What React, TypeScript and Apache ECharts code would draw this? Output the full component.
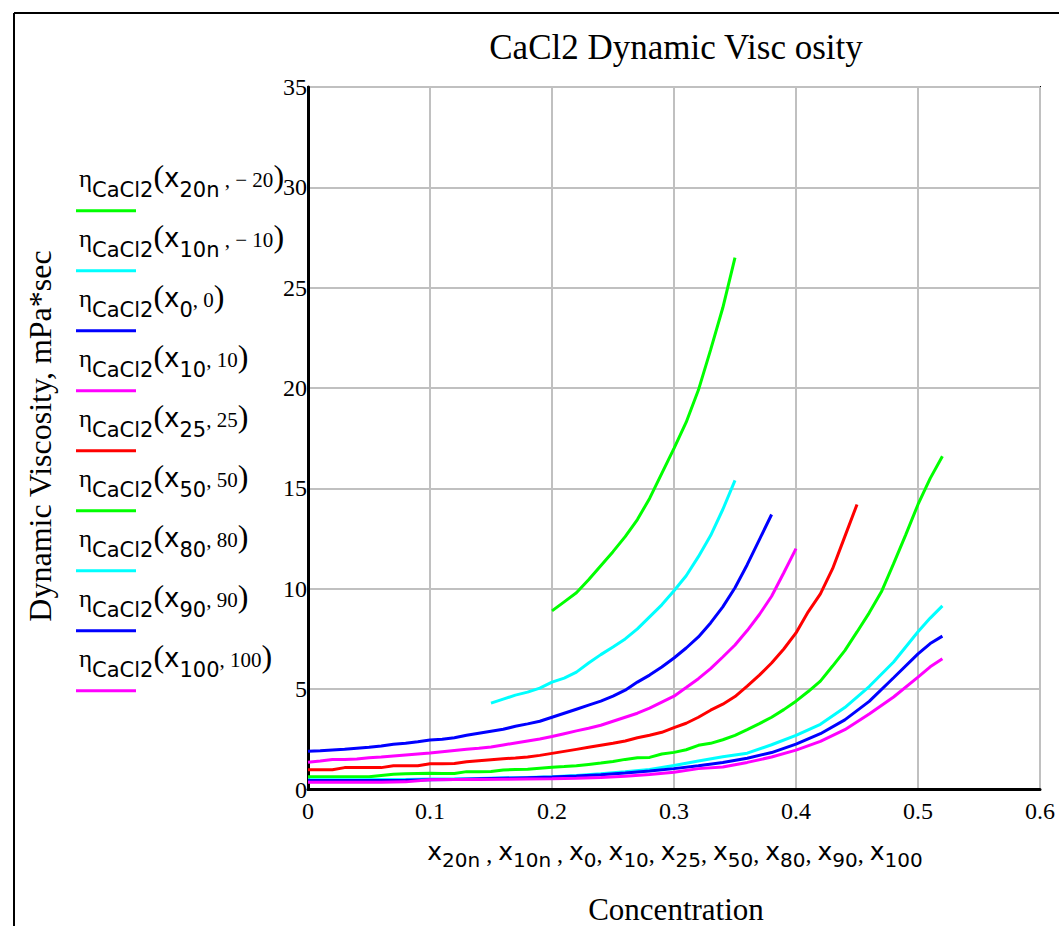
import React, { useEffect, useRef } from "react";
import * as echarts from "echarts";

// Concentration (mass fraction) and dynamic viscosity (mPa*s) for each temperature trace
const concM20 = [0.2, 0.21, 0.22, 0.23, 0.24, 0.25, 0.26, 0.27, 0.28, 0.29, 0.3, 0.31, 0.32, 0.33, 0.34, 0.35];
const etaM20 = [8.9, 9.35, 9.8, 10.45, 11.15, 11.85, 12.6, 13.45, 14.5, 15.75, 17.0, 18.3, 19.9, 21.9, 24.0, 26.5];

const concM10 = [0.15, 0.16, 0.17, 0.18, 0.19, 0.2, 0.21, 0.22, 0.23, 0.24, 0.25, 0.26, 0.27, 0.28, 0.29, 0.3, 0.31, 0.32, 0.33, 0.34, 0.35];
const etaM10 = [4.3, 4.5, 4.7, 4.85, 5.05, 5.35, 5.55, 5.85, 6.3, 6.72, 7.1, 7.5, 8.0, 8.6, 9.2, 9.9, 10.65, 11.6, 12.65, 13.95, 15.4];

const conc0 = [
  0, 0.01, 0.02, 0.03, 0.04, 0.05, 0.06, 0.07, 0.08, 0.09,
  0.1, 0.11, 0.12, 0.13, 0.14, 0.15, 0.16, 0.17, 0.18, 0.19,
  0.2, 0.21, 0.22, 0.23, 0.24, 0.25, 0.26, 0.27, 0.28, 0.29,
  0.3, 0.31, 0.32, 0.33, 0.34, 0.35, 0.36, 0.37, 0.38,
];
const eta0 = [
  1.9, 1.93, 1.97, 2.0, 2.05, 2.1, 2.17, 2.25, 2.3, 2.38,
  2.47, 2.5, 2.58, 2.7, 2.8, 2.9, 3.0, 3.15, 3.27, 3.4,
  3.6, 3.8, 4.0, 4.2, 4.4, 4.65, 4.95, 5.35, 5.7, 6.1,
  6.55, 7.05, 7.6, 8.3, 9.1, 10.05, 11.2, 12.45, 13.7,
];

const conc10 = [
  0, 0.01, 0.02, 0.03, 0.04, 0.05, 0.06, 0.07, 0.08, 0.09,
  0.1, 0.11, 0.12, 0.13, 0.14, 0.15, 0.16, 0.17, 0.18, 0.19,
  0.2, 0.21, 0.22, 0.23, 0.24, 0.25, 0.26, 0.27, 0.28, 0.29,
  0.3, 0.31, 0.32, 0.33, 0.34, 0.35, 0.36, 0.37, 0.38, 0.39, 0.4,
];
const eta10 = [
  1.36, 1.42, 1.5, 1.5, 1.52, 1.58, 1.62, 1.67, 1.72, 1.77,
  1.82, 1.88, 1.94, 2.0, 2.05, 2.12, 2.22, 2.32, 2.42, 2.52,
  2.64, 2.78, 2.92, 3.05, 3.2, 3.4, 3.6, 3.8, 4.05, 4.35,
  4.65, 5.08, 5.52, 6.02, 6.6, 7.2, 7.92, 8.72, 9.63, 10.8, 12.0,
];

const conc25 = [
  0, 0.01, 0.02, 0.03, 0.04, 0.05, 0.06, 0.07, 0.08, 0.09,
  0.1, 0.11, 0.12, 0.13, 0.14, 0.15, 0.16, 0.17, 0.18, 0.19,
  0.2, 0.21, 0.22, 0.23, 0.24, 0.25, 0.26, 0.27, 0.28, 0.29,
  0.3, 0.31, 0.32, 0.33, 0.34, 0.35, 0.36, 0.37, 0.38, 0.39,
  0.4, 0.41, 0.42, 0.43, 0.44, 0.45,
];
const eta25 = [
  0.98, 0.98, 0.98, 1.09, 1.09, 1.09, 1.09, 1.18, 1.18, 1.18,
  1.28, 1.28, 1.3, 1.38, 1.43, 1.48, 1.53, 1.57, 1.62, 1.7,
  1.8, 1.9, 2.0, 2.1, 2.2, 2.3, 2.42, 2.58, 2.7, 2.85,
  3.08, 3.3, 3.6, 3.95, 4.25, 4.63, 5.15, 5.7, 6.3, 7.0,
  7.8, 8.85, 9.75, 11.0, 12.6, 14.2,
];

const conc50 = [
  0, 0.01, 0.02, 0.03, 0.04, 0.05, 0.06, 0.07, 0.08, 0.09,
  0.1, 0.11, 0.12, 0.13, 0.14, 0.15, 0.16, 0.17, 0.18, 0.19,
  0.2, 0.21, 0.22, 0.23, 0.24, 0.25, 0.26, 0.27, 0.28, 0.29,
  0.3, 0.31, 0.32, 0.33, 0.34, 0.35, 0.36, 0.37, 0.38, 0.39,
  0.4, 0.41, 0.42, 0.43, 0.44, 0.45, 0.46, 0.47, 0.48, 0.49,
  0.5, 0.51, 0.52,
];
const eta50 = [
  0.64, 0.64, 0.64, 0.64, 0.64, 0.64, 0.7, 0.76, 0.78, 0.8,
  0.81, 0.8, 0.8, 0.89, 0.89, 0.9, 0.97, 1.0, 1.01, 1.06,
  1.11, 1.14, 1.18, 1.25, 1.32, 1.4, 1.5, 1.58, 1.6, 1.77,
  1.85, 1.98, 2.2, 2.3, 2.48, 2.7, 2.98, 3.28, 3.6, 3.98,
  4.4, 4.88, 5.4, 6.15, 6.92, 7.85, 8.8, 9.85, 11.25, 12.7,
  14.2, 15.5, 16.6,
];

const concHot = [
  0, 0.02, 0.04, 0.06, 0.08, 0.1, 0.12, 0.14, 0.16, 0.18,
  0.2, 0.22, 0.24, 0.26, 0.28, 0.3, 0.32, 0.34, 0.36, 0.38,
  0.4, 0.42, 0.44, 0.46, 0.48, 0.5, 0.51, 0.52,
];
const eta80 = [
  0.48, 0.48, 0.48, 0.5, 0.5, 0.52, 0.53, 0.55, 0.58, 0.6,
  0.64, 0.7, 0.78, 0.88, 1.0, 1.2, 1.42, 1.63, 1.81, 2.23,
  2.7, 3.25, 4.08, 5.13, 6.35, 7.86, 8.54, 9.15,
];
const eta90 = [
  0.45, 0.45, 0.45, 0.45, 0.46, 0.48, 0.5, 0.53, 0.56, 0.59,
  0.62, 0.67, 0.73, 0.82, 0.92, 1.04, 1.18, 1.35, 1.56, 1.84,
  2.26, 2.78, 3.47, 4.39, 5.57, 6.76, 7.27, 7.64,
];
const eta100 = [
  0.36, 0.36, 0.36, 0.36, 0.38, 0.48, 0.5, 0.5, 0.51, 0.52,
  0.53, 0.56, 0.6, 0.66, 0.75, 0.86, 1.04, 1.12, 1.35, 1.62,
  1.96, 2.4, 2.98, 3.76, 4.61, 5.6, 6.11, 6.51,
];

const subscripts = ["20n", "10n", "0", "10", "25", "50", "80", "90", "100"];
const temperatures = [" , − 20", " , − 10", ", 0", ", 10", ", 25", ", 50", ", 80", ", 90", ", 100"];

const GREEN = "#00ff00";
const CYAN = "#00ffff";
const BLUE = "#0000ff";
const MAGENTA = "#ff00ff";
const RED = "#ff0000";

const SERIF = '"Liberation Serif", "Times New Roman", serif';
const SANS = '"DejaVu Sans", Verdana, sans-serif';

const traces = [
  { color: GREEN, x: concM20, y: etaM20 },
  { color: CYAN, x: concM10, y: etaM10 },
  { color: BLUE, x: conc0, y: eta0 },
  { color: MAGENTA, x: conc10, y: eta10 },
  { color: RED, x: conc25, y: eta25 },
  { color: GREEN, x: conc50, y: eta50 },
  { color: CYAN, x: concHot, y: eta80 },
  { color: BLUE, x: concHot, y: eta90 },
  { color: MAGENTA, x: concHot, y: eta100 },
];

const pairs = (xs: number[], ys: number[]) => xs.map((v, i) => [v, ys[i]]);

// rich-text fragment style; bottom padding lifts the glyphs above the shared line bottom
const frag = (fontFamily: string, fontSize: number, lift: number) => ({
  fontFamily,
  fontSize,
  verticalAlign: "bottom",
  padding: [0, 0, lift, 0],
  fill: "#000",
});

function legendGraphics() {
  const out: any[] = [];
  traces.forEach((t, i) => {
    const dy = 60 * i;
    const base = 200 + dy;
    out.push({
      type: "text",
      x: 79,
      y: base,
      silent: true,
      style: {
        text: `{e|η}{c|CaCl2}{p|(}{x|x}{s|${subscripts[i]}}{a|${temperatures[i]}}{p|)}`,
        align: "left",
        verticalAlign: "bottom",
        fill: "#000",
        rich: {
          e: frag(SERIF, 25, 9),
          c: frag(SANS, 21, 0),
          p: frag(SERIF, 32, 8),
          x: frag(SANS, 26, 9),
          s: frag(SANS, 21, 0),
          a: frag(SERIF, 21, 10),
        },
      },
    });
    out.push({
      type: "line",
      silent: true,
      shape: { x1: 76, y1: 210.7 + dy, x2: 136, y2: 210.7 + dy },
      style: { stroke: t.color, lineWidth: 3 },
    });
  });
  return out;
}

function xNameText() {
  return subscripts
    .map((s, i) => {
      const sep = i === subscripts.length - 1 ? "" : i < 2 ? "{c| , }" : "{c|, }";
      return `{x|x}{s|${s}}${sep}`;
    })
    .join("");
}

export default function App() {
  const ref = useRef<HTMLDivElement>(null);

  useEffect(() => {
    if (!ref.current) return;
    const chart = echarts.init(ref.current, null, { renderer: "svg" });
    const option: any = {
      animation: false,
      backgroundColor: "#fff",
      grid: {
        left: 308,
        top: 87,
        width: 732,
        height: 702.5,
        show: true,
        borderColor: "#000",
        borderWidth: 2,
        backgroundColor: "transparent",
      },
      xAxis: {
        type: "value",
        min: 0,
        max: 0.6,
        interval: 0.1,
        axisLine: { show: true, onZero: false, lineStyle: { color: "#000", width: 3 } },
        axisTick: { show: false },
        splitLine: { show: true, lineStyle: { color: "#c0c0c0", width: 2 } },
        axisLabel: {
          color: "#000",
          fontFamily: SERIF,
          fontSize: 24,
          margin: 9,
          showMinLabel: true,
          showMaxLabel: true,
          formatter: (v: number) => (v === 0 ? "0" : v.toFixed(1)),
        },
      },
      yAxis: {
        type: "value",
        min: 0,
        max: 35,
        interval: 5,
        axisLine: { show: true, onZero: false, lineStyle: { color: "#000", width: 3 } },
        axisTick: { show: false },
        splitLine: { show: true, lineStyle: { color: "#c0c0c0", width: 2 } },
        axisLabel: {
          color: "#000",
          fontFamily: SERIF,
          fontSize: 24,
          margin: 1,
          padding: [6, 0, 0, 0],
          showMinLabel: true,
          showMaxLabel: true,
        },
      },
      series: traces.map((t) => ({
        type: "line",
        data: pairs(t.x, t.y),
        symbol: "none",
        showSymbol: false,
        silent: true,
        lineStyle: { color: t.color, width: 3 },
        itemStyle: { color: t.color },
      })),
      graphic: [
        {
          type: "line",
          silent: true,
          shape: { x1: 14, y1: 13, x2: 1059, y2: 13 },
          style: { stroke: "#000", lineWidth: 2 },
        },
        {
          type: "line",
          silent: true,
          shape: { x1: 14, y1: 13, x2: 14, y2: 926 },
          style: { stroke: "#000", lineWidth: 2 },
        },
        {
          type: "text",
          x: 676,
          y: 47,
          silent: true,
          style: {
            text: "CaCl2 Dynamic Visc osity",
            fontFamily: SERIF,
            fontSize: 35,
            fill: "#000",
            align: "center",
            verticalAlign: "middle",
          },
        },
        {
          type: "text",
          x: 40,
          y: 436,
          rotation: Math.PI / 2,
          silent: true,
          style: {
            text: "Dynamic Viscosity, mPa*sec",
            fontFamily: SERIF,
            fontSize: 32,
            fill: "#000",
            align: "center",
            verticalAlign: "middle",
          },
        },
        {
          type: "text",
          x: 675,
          y: 872,
          silent: true,
          style: {
            text: xNameText(),
            align: "center",
            verticalAlign: "bottom",
            fill: "#000",
            rich: {
              x: frag(SANS, 25, 8),
              s: frag(SANS, 20, 2),
              c: frag(SERIF, 24, 6),
            },
          },
        },
        {
          type: "text",
          x: 676,
          y: 909,
          silent: true,
          style: {
            text: "Concentration",
            fontFamily: SERIF,
            fontSize: 31,
            fill: "#000",
            align: "center",
            verticalAlign: "middle",
          },
        },
        ...legendGraphics(),
      ],
    };
    chart.setOption(option);
    return () => chart.dispose();
  }, []);

  return (
    <div
      ref={ref}
      style={{ position: "absolute", left: 0, top: 0, width: 1059, height: 926 }}
    />
  );
}
